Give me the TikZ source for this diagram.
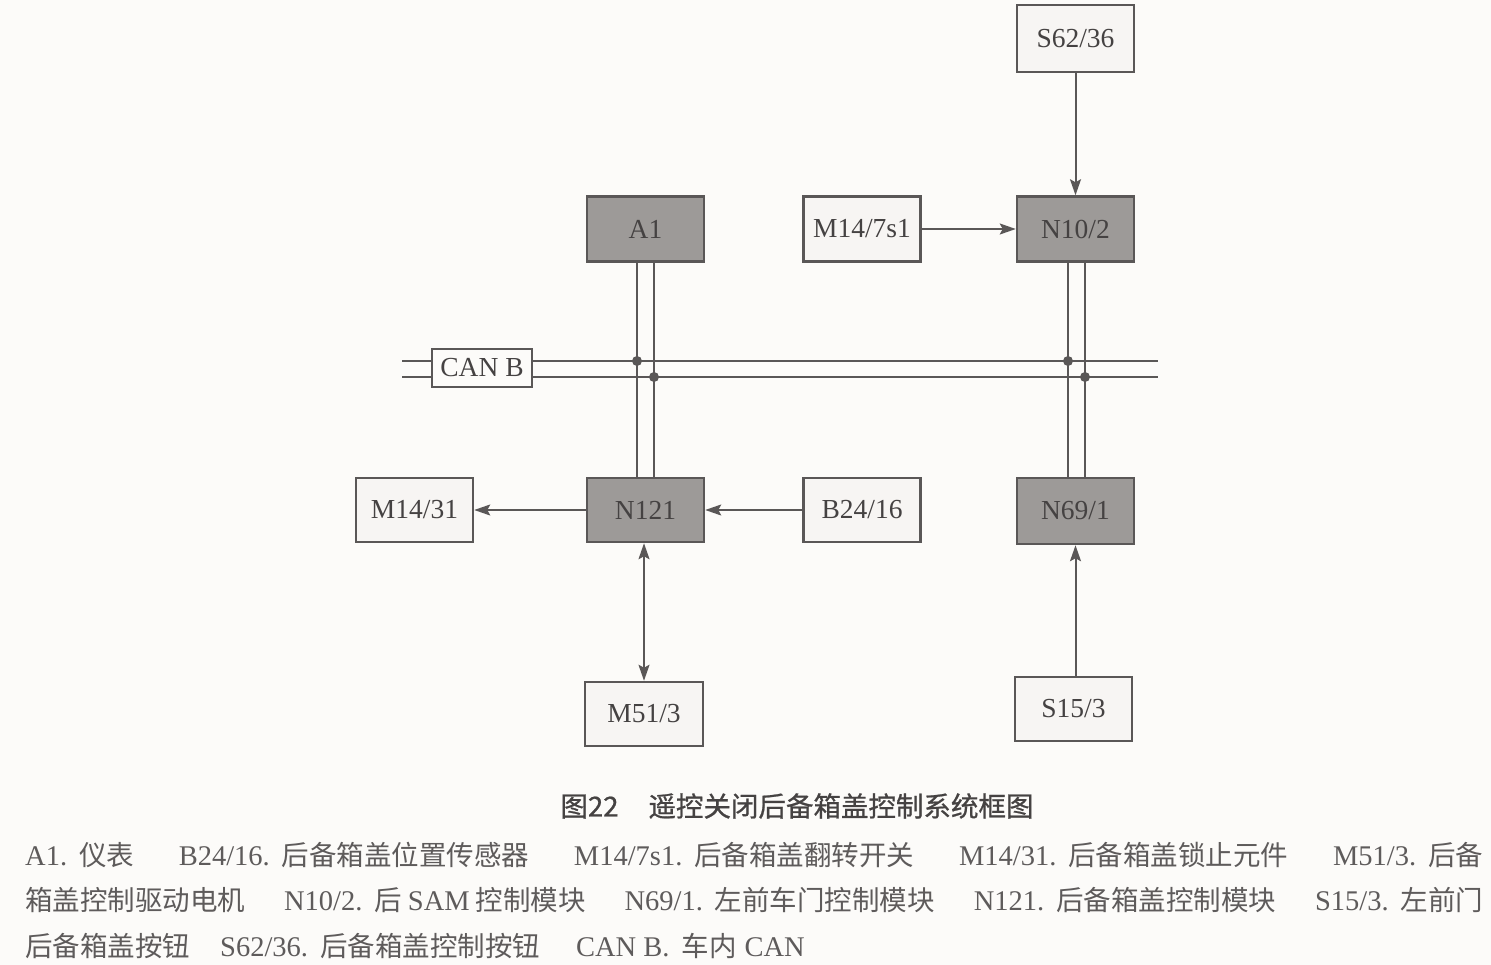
\documentclass[tikz,border=0pt]{standalone}
\usepackage{fontspec}
\setmainfont{Liberation Serif}
\newfontfamily\cjk{Noto Sans CJK SC}
\newfontfamily\cjkcap[FakeBold=0.8]{Noto Sans CJK SC}
\usetikzlibrary{arrows.meta}
\definecolor{bgc}{HTML}{FCFBF9}
\definecolor{edge}{HTML}{5A5757}
\definecolor{darkf}{HTML}{9D9A98}
\definecolor{lightf}{HTML}{F7F5F3}
\definecolor{ink}{HTML}{454242}
\definecolor{legink}{HTML}{5E5B5B}
\newcommand{\lc}[1]{{\fontsize{27.5}{30}\selectfont\cjk #1}}
\begin{document}
\begin{tikzpicture}[x=1pt,y=-1pt,
  box/.style={draw=edge,line width=2.5pt,minimum width=117pt,minimum height=65pt,inner sep=0pt,font=\fontsize{27.5}{30}\selectfont,text=ink},
  darkbox/.style={box,fill=darkf},
  lightbox/.style={box,fill=lightf},
  wire/.style={draw=edge,line width=2pt},
  tip/.tip={Stealth[length=16pt,width=11pt,inset=3pt]},
  arr/.style={wire,-tip},
  darr/.style={wire,tip-tip},
  jdot/.style={circle,fill=edge,inner sep=0pt,minimum size=10pt},
  legend/.style={anchor=west,inner sep=0pt,text=legink,font=\fontsize{28.5}{30}\selectfont}]
\fill[bgc] (0,0) rectangle (1491,965);
\useasboundingbox (0,0) rectangle (1491,965);

% boxes
\node[lightbox,minimum height=67pt] (S62) at (1075.5,38.5) {S62/36};
\node[darkbox] (A1) at (645.5,229) {A1};
\node[lightbox] (M147) at (862,229) {M14/7s1};
\node[darkbox] (N102) at (1075.5,229) {N10/2};
\node[lightbox,minimum height=64pt] (M1431) at (414.5,510) {M14/31};
\node[darkbox,minimum height=64pt] (N121) at (645.5,510) {N121};
\node[lightbox,minimum height=64pt] (B2416) at (862,510) {B24/16};
\node[darkbox,minimum height=66pt] (N691) at (1075.5,511) {N69/1};
\node[lightbox,minimum height=64pt,minimum width=118pt] (M513) at (644,714) {M51/3};
\node[lightbox,minimum height=64pt] (S153) at (1073.5,709) {S15/3};

% CAN bus
\coordinate (busA1) at (402,361);
\coordinate (busA2) at (1158,361);
\coordinate (busB1) at (402,377);
\coordinate (busB2) at (1158,377);
\draw[wire] (busA1) -- (busA2);
\draw[wire] (busB1) -- (busB2);
\node[box,fill=bgc,minimum width=100pt,minimum height=38pt,line width=2pt] (CAN) at (482,368) {CAN B};

% bus drops
\draw[wire] ([xshift=-8.5pt]A1.south) -- ([xshift=-8.5pt]N121.north);
\draw[wire] ([xshift=8.5pt]A1.south) -- ([xshift=8.5pt]N121.north);
\draw[wire] ([xshift=-7.5pt]N102.south) -- ([xshift=-7.5pt]N691.north);
\draw[wire] ([xshift=9.5pt]N102.south) -- ([xshift=9.5pt]N691.north);
\node[jdot] (j1) at ([xshift=-8.5pt]A1.south |- busA1) {};
\node[jdot] (j2) at ([xshift=8.5pt]A1.south |- busB1) {};
\node[jdot] (j3) at ([xshift=-7.5pt]N102.south |- busA1) {};
\node[jdot] (j4) at ([xshift=9.5pt]N102.south |- busB1) {};

% signal connectors
\draw[arr] (S62.south) -- (N102.north);
\draw[arr] (M147.east) -- (N102.west);
\draw[arr] (N121.west) -- (M1431.east);
\draw[arr] (B2416.west) -- (N121.east);
\draw[darr] ([xshift=-1.5pt]N121.south) -- (M513.north);
\draw[arr] ([xshift=2pt]S153.north) -- ([xshift=0pt]N691.south);

% caption
\node[text=ink,font=\fontsize{27.5}{30}\selectfont\cjkcap] (cap) at (797,806) {图22\hspace{30pt}遥控关闭后备箱盖控制系统框图};

% legend
\node[legend] (leg1) at (25,855) {\hbox to 1458pt{A1.\hspace{12pt}\lc{仪表}\hfill B24/16.\hspace{12pt}\lc{后备箱盖位置传感器}\hfill M14/7s1.\hspace{12pt}\lc{后备箱盖翻转开关}\hfill M14/31.\hspace{12pt}\lc{后备箱盖锁止元件}\hfill M51/3.\hspace{12pt}\lc{后备}}};
\node[legend] (leg2) at (25,900) {\hbox to 1458pt{\lc{箱盖控制驱动电机}\hfill N10/2.\hspace{12pt}\lc{后}\hspace{6pt}SAM\hspace{6pt}\lc{控制模块}\hfill N69/1.\hspace{12pt}\lc{左前车门控制模块}\hfill N121.\hspace{12pt}\lc{后备箱盖控制模块}\hfill S15/3.\hspace{12pt}\lc{左前门}}};
\node[legend] (leg3) at (25,946) {\lc{后备箱盖按钮}\hspace{30pt}S62/36.\hspace{12pt}\lc{后备箱盖控制按钮}\hspace{36pt}CAN B.\hspace{12pt}\lc{车内}\hspace{8pt}CAN};
\end{tikzpicture}
\end{document}
